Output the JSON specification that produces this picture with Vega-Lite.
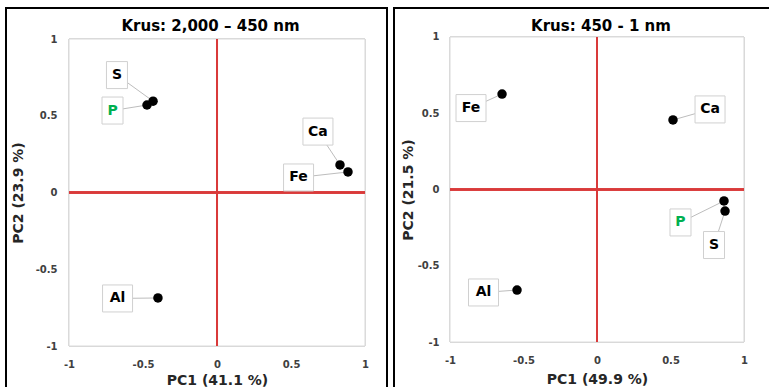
{
  "$schema": "https://vega.github.io/schema/vega-lite/v6.json",
  "background": "white",
  "padding": {"left": 5, "top": 7, "right": 0, "bottom": 0},
  "spacing": 5,
  "datasets": {
    "a": [
      {"el": "S", "x": -0.432, "y": 0.595, "lx": -0.676, "ly": 0.765},
      {"el": "P", "x": -0.473, "y": 0.57, "lx": -0.706, "ly": 0.534},
      {"el": "Ca", "x": 0.831, "y": 0.18, "lx": 0.682, "ly": 0.397},
      {"el": "Fe", "x": 0.885, "y": 0.134, "lx": 0.551, "ly": 0.098},
      {"el": "Al", "x": -0.399, "y": -0.687, "lx": -0.672, "ly": -0.69}
    ],
    "b": [
      {"el": "Fe", "x": -0.646, "y": 0.626, "lx": -0.857, "ly": 0.534},
      {"el": "Ca", "x": 0.517, "y": 0.456, "lx": 0.769, "ly": 0.525},
      {"el": "P", "x": 0.864, "y": -0.075, "lx": 0.568, "ly": -0.216},
      {"el": "S", "x": 0.871, "y": -0.141, "lx": 0.796, "ly": -0.364},
      {"el": "Al", "x": -0.544, "y": -0.659, "lx": -0.772, "ly": -0.675}
    ]
  },
  "config": {
    "view": {"stroke": "black", "strokeWidth": 2, "fill": "white"},
    "axis": {
      "domain": false, "ticks": false, "grid": false,
      "labelFont": "DejaVu Sans", "labelFontWeight": "bold", "labelFontSize": 10, "labelColor": "#404040",
      "titleFont": "DejaVu Sans", "titleFontWeight": "bold", "titleFontSize": 14, "titleColor": "#262626"
    },
    "title": {"font": "DejaVu Sans", "fontWeight": "bold", "fontSize": 15, "color": "black", "frame": "group", "anchor": "middle"}
  },
  "hconcat": [
    {
      "width": 381, "height": 385,
      "title": {"text": "Krus: 2,000 – 450 nm", "offset": -26, "dx": 14},
      "data": {"name": "a"},
      "layer": [
        {
          "mark": {"type": "rect", "fill": "white", "stroke": "#d9d9d9", "strokeWidth": 1},
          "encoding": {
            "x": {"datum": -1, "type": "quantitative", "scale": {"domain": [-1.4257, 1.1486], "nice": false, "zero": false},
              "axis": {"values": [-1, -0.5, 0, 0.5, 1], "labelExpr": "'' + datum.value", "offset": -47, "labelPadding": 13, "title": "PC1 (41.1 %)", "titleX": 211, "titleY": 27}},
            "x2": {"datum": 1},
            "y": {"datum": -1, "type": "quantitative", "scale": {"domain": [-1.306, 1.202], "nice": false, "zero": false},
              "axis": {"values": [-1, -0.5, 0, 0.5, 1], "labelExpr": "'' + datum.value", "offset": -63, "labelPadding": 12, "title": "PC2 (23.9 %)", "titleX": -44, "titleY": 184.5}},
            "y2": {"datum": 1}
          }
        },
        {
          "mark": {"type": "rule", "color": "#d93a3a", "strokeWidth": 2},
          "encoding": {"x": {"datum": 0, "type": "quantitative"}, "y": {"datum": -1, "type": "quantitative"}, "y2": {"datum": 1}}
        },
        {
          "mark": {"type": "rule", "color": "#d93a3a", "strokeWidth": 2},
          "encoding": {"y": {"datum": 0, "type": "quantitative"}, "x": {"datum": -1, "type": "quantitative"}, "x2": {"datum": 1}}
        },
        {
          "mark": {"type": "rule", "color": "#bdbdbd", "strokeWidth": 1},
          "encoding": {"x": {"field": "x", "type": "quantitative"}, "y": {"field": "y", "type": "quantitative"}, "x2": {"field": "lx"}, "y2": {"field": "ly"}}
        },
        {
          "mark": {"type": "point", "shape": "circle", "filled": true, "size": 90, "color": "black", "opacity": 1},
          "encoding": {"x": {"field": "x", "type": "quantitative"}, "y": {"field": "y", "type": "quantitative"}}
        },
        {
          "transform": [{"filter": "length(datum.el) == 1"}],
          "mark": {"type": "point", "shape": "M-1.05,-1.35H1.05V1.35H-1.05Z", "size": 400, "filled": true, "fill": "white", "stroke": "#d0d0d0", "strokeWidth": 1, "opacity": 1},
          "encoding": {"x": {"field": "lx", "type": "quantitative"}, "y": {"field": "ly", "type": "quantitative"}}
        },
        {
          "transform": [{"filter": "length(datum.el) == 2"}],
          "mark": {"type": "point", "shape": "M-1.5,-1.35H1.5V1.35H-1.5Z", "size": 400, "filled": true, "fill": "white", "stroke": "#d0d0d0", "strokeWidth": 1, "opacity": 1},
          "encoding": {"x": {"field": "lx", "type": "quantitative"}, "y": {"field": "ly", "type": "quantitative"}}
        },
        {
          "mark": {"type": "text", "font": "DejaVu Sans", "fontWeight": "bold", "fontSize": 14, "baseline": "middle", "align": "center"},
          "encoding": {
            "x": {"field": "lx", "type": "quantitative"}, "y": {"field": "ly", "type": "quantitative"},
            "text": {"field": "el"},
            "color": {"condition": {"test": "datum.el === 'P'", "value": "#00b050"}, "value": "black"}
          }
        }
      ]
    },
    {
      "width": 382, "height": 385,
      "title": {"text": "Krus: 450 - 1 nm", "offset": -26, "dx": 16},
      "data": {"name": "b"},
      "layer": [
        {
          "mark": {"type": "rect", "fill": "white", "stroke": "#d9d9d9", "strokeWidth": 1},
          "encoding": {
            "x": {"datum": -1, "type": "quantitative", "scale": {"domain": [-1.381, 1.2177], "nice": false, "zero": false},
              "axis": {"values": [-1, -0.5, 0, 0.5, 1], "labelExpr": "'' + datum.value", "offset": -51, "labelPadding": 13, "title": "PC1 (49.9 %)", "titleX": 203, "titleY": 30}},
            "x2": {"datum": 1},
            "y": {"datum": -1, "type": "quantitative", "scale": {"domain": [-1.334, 1.19], "nice": false, "zero": false},
              "axis": {"values": [-1, -0.5, 0, 0.5, 1], "labelExpr": "'' + datum.value", "offset": -56, "labelPadding": 11, "title": "PC2 (21.5 %)", "titleX": -35, "titleY": 181.5}},
            "y2": {"datum": 1}
          }
        },
        {
          "mark": {"type": "rule", "color": "#d93a3a", "strokeWidth": 2},
          "encoding": {"x": {"datum": 0, "type": "quantitative"}, "y": {"datum": -1, "type": "quantitative"}, "y2": {"datum": 1}}
        },
        {
          "mark": {"type": "rule", "color": "#d93a3a", "strokeWidth": 2},
          "encoding": {"y": {"datum": 0, "type": "quantitative"}, "x": {"datum": -1, "type": "quantitative"}, "x2": {"datum": 1}}
        },
        {
          "mark": {"type": "rule", "color": "#bdbdbd", "strokeWidth": 1},
          "encoding": {"x": {"field": "x", "type": "quantitative"}, "y": {"field": "y", "type": "quantitative"}, "x2": {"field": "lx"}, "y2": {"field": "ly"}}
        },
        {
          "mark": {"type": "point", "shape": "circle", "filled": true, "size": 90, "color": "black", "opacity": 1},
          "encoding": {"x": {"field": "x", "type": "quantitative"}, "y": {"field": "y", "type": "quantitative"}}
        },
        {
          "transform": [{"filter": "length(datum.el) == 1"}],
          "mark": {"type": "point", "shape": "M-1.05,-1.35H1.05V1.35H-1.05Z", "size": 400, "filled": true, "fill": "white", "stroke": "#d0d0d0", "strokeWidth": 1, "opacity": 1},
          "encoding": {"x": {"field": "lx", "type": "quantitative"}, "y": {"field": "ly", "type": "quantitative"}}
        },
        {
          "transform": [{"filter": "length(datum.el) == 2"}],
          "mark": {"type": "point", "shape": "M-1.5,-1.35H1.5V1.35H-1.5Z", "size": 400, "filled": true, "fill": "white", "stroke": "#d0d0d0", "strokeWidth": 1, "opacity": 1},
          "encoding": {"x": {"field": "lx", "type": "quantitative"}, "y": {"field": "ly", "type": "quantitative"}}
        },
        {
          "mark": {"type": "text", "font": "DejaVu Sans", "fontWeight": "bold", "fontSize": 14, "baseline": "middle", "align": "center"},
          "encoding": {
            "x": {"field": "lx", "type": "quantitative"}, "y": {"field": "ly", "type": "quantitative"},
            "text": {"field": "el"},
            "color": {"condition": {"test": "datum.el === 'P'", "value": "#00b050"}, "value": "black"}
          }
        }
      ]
    }
  ]
}
